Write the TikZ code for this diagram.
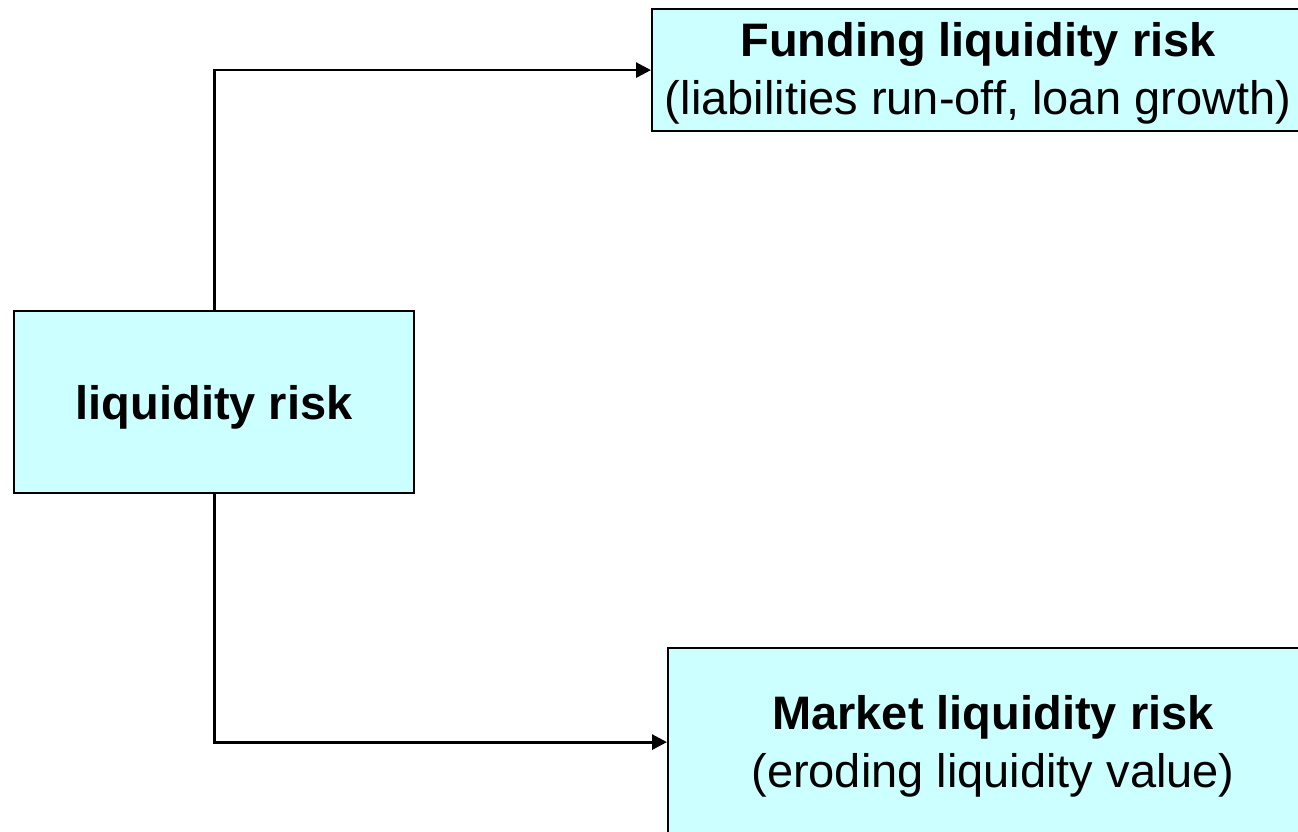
\documentclass[tikz,border=0pt]{standalone}
\usepackage{fontspec}
\setmainfont{Liberation Sans}
\usetikzlibrary{arrows.meta}
\definecolor{boxfill}{HTML}{CCFFFF}
\begin{document}
\begin{tikzpicture}[x=1pt,y=-1pt,
  box/.style={draw=black,line width=2.2pt,fill=boxfill,inner sep=0pt,
              rectangle,anchor=north west},
  label/.style={inner sep=0pt,align=center,anchor=base,
                font=\fontsize{47}{58}\selectfont},
  conn/.style={draw=black,line width=2.8pt,
               -{Triangle[length=15pt,width=15pt]}}]
\useasboundingbox (0,0) rectangle (1298,832);
\clip (0,0) rectangle (1298,832);

% three boxes
\node[box,minimum width=400pt,minimum height=182pt,
      font=\fontsize{47}{58}\selectfont\bfseries,
      text height=40pt,text depth=6pt] (lr) at (13,310) {liquidity risk};
\node[box,minimum width=654pt,minimum height=122pt] (fund) at (651,8) {};
\node[box,minimum width=652pt,minimum height=188pt] (mkt) at (667,647) {};

% box texts (base anchor sits on the last line)
\node[label] (fundT) at (978,115)
  {\textbf{Funding liquidity risk}\\(liabilities run-off, loan growth)};
\node[label] (mktT) at (993,787)
  {\textbf{Market liquidity risk}\\(eroding liquidity value)};

% connectors
\draw[conn] (lr.north) |- (fund.west);
\draw[conn] (lr.south) |- (mkt.west);
\end{tikzpicture}
\end{document}
